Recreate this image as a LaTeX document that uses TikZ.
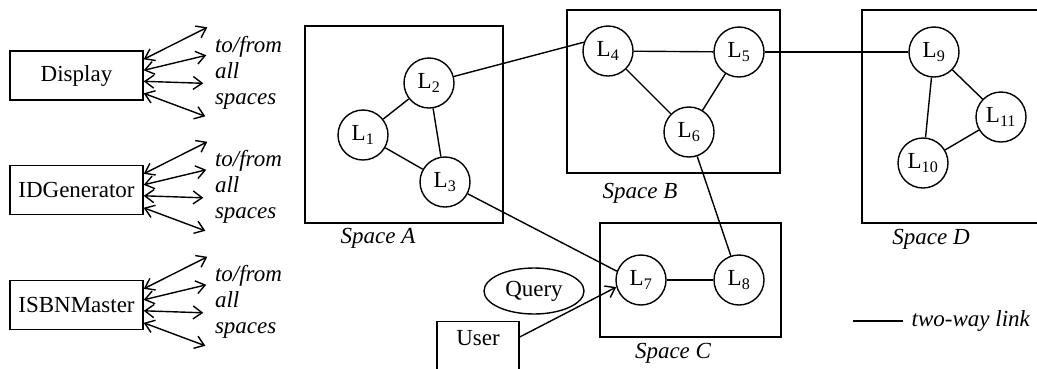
\documentclass[tikz,border=0pt]{standalone}
\usepackage{fontspec}
\setmainfont{Liberation Serif}
\usetikzlibrary{arrows.meta,shapes.geometric,calc}

\begin{document}
\begin{tikzpicture}[x=1pt,y=-1pt,line width=1.4pt,
  font=\fontsize{23}{26}\selectfont,
  barb/.tip={Straight Barb[length=9pt,width=13pt,line width=1.4pt]},
  both/.style={barb-barb},
  oneway/.style={-barb},
  box/.style={draw,inner sep=0pt,minimum width=133pt,minimum height=49pt},
  space/.style={draw,inner sep=0pt},
  loc/.style={draw,circle,inner sep=0pt,minimum size=50pt},
  lbl/.style={font=\fontsize{23}{26}\selectfont\itshape,inner sep=0pt}]

\useasboundingbox (0,0) rectangle (1037,368);
\clip (0,0) rectangle (1037,368);

% service components with their broadcast links
\node[box] (disp)  at (76.5,75.5) {Display};
\node[box] (idgen) at (76.5,190)  {IDGenerator};
\node[box] (isbn)  at (76.5,305)  {ISBNMaster};

\foreach \b in {disp,idgen,isbn}{
  \coordinate (\b-e1) at ($(\b.north west)+(198,-23)$);
  \coordinate (\b-e2) at ($(\b.north west)+(197,5)$);
  \coordinate (\b-e3) at ($(\b.north west)+(194,33)$);
  \coordinate (\b-e4) at ($(\b.north west)+(196,66)$);
  \draw[both] ($(\b.north east)+(0,9)$)  -- (\b-e1);
  \draw[both] ($(\b.north east)+(0,20)$) -- (\b-e2);
  \draw[both] ($(\b.north east)+(0,31)$) -- (\b-e3);
  \draw[both] ($(\b.north east)+(0,43)$) -- (\b-e4);
  \node[lbl,anchor=base west] (\b-t1) at ($(\b.north west)+(205,2)$)  {to/from};
  \node[lbl,anchor=base west] (\b-t2) at ($(\b.north west)+(205,28)$) {all};
  \node[lbl,anchor=base west] (\b-t3) at ($(\b.north west)+(205,54)$) {spaces};
}

% spaces
\node[space,minimum width=198pt,minimum height=197pt] (spA) at (404,124.5) {};
\node[space,minimum width=213pt,minimum height=163pt] (spB) at (673.5,91.5) {};
\node[space,minimum width=181pt,minimum height=114pt] (spC) at (690.5,280) {};
\node[space,minimum width=200pt,minimum height=213pt] (spD) at (962,116.5) {};

\node[lbl] (labA) at (378,238) {Space A};
\node[lbl] (labB) at (640,193) {Space B};
\node[lbl] (labC) at (673,353) {Space C};
\node[lbl] (labD) at (931,239) {Space D};

% locations
\node[loc] (L1)  at (363,135) {L\textsubscript{1}};
\node[loc] (L2)  at (429,83)  {L\textsubscript{2}};
\node[loc] (L3)  at (445,182) {L\textsubscript{3}};
\node[loc] (L4)  at (608,51)  {L\textsubscript{4}};
\node[loc] (L5)  at (739,52)  {L\textsubscript{5}};
\node[loc] (L6)  at (689,132) {L\textsubscript{6}};
\node[loc] (L7)  at (641,280) {L\textsubscript{7}};
\node[loc] (L8)  at (739,280) {L\textsubscript{8}};
\node[loc] (L9)  at (934,52)  {L\textsubscript{9}};
\node[loc] (L10) at (923,163) {L\textsubscript{10}};
\node[loc] (L11) at (1001,117) {L\textsubscript{11}};

% two-way links
\draw (L1) -- (L2);
\draw (L1) -- (L3);
\draw (L2) -- (L3);
\draw (L2) -- (L4.160);
\draw (L4) -- (L5);
\draw (L4) -- (L6);
\draw (L5) -- (L6);
\draw (L5) -- (L9);
\draw (L6) -- (L8);
\draw (L3) -- (L7.160);
\draw (L7) -- (L8);
\draw (L9) -- (L10);
\draw (L9) -- (L11);
\draw (L10) -- (L11);

% user and query
\node[draw,ellipse,inner sep=0pt,minimum width=100pt,minimum height=46pt] (query) at (534,291) {Query};
\node[draw,anchor=north,minimum width=82pt,inner xsep=0pt,inner ysep=8pt,
      text height=16pt,text depth=40pt] (user) at (478,321) {User};
\draw[oneway] ([yshift=-16pt]user.north east) -- (L7.196);

% legend
\node[lbl,anchor=west,inner xsep=8pt] (legend) at (903,321) {two-way link};
\coordinate (lg) at (853,321);
\draw (lg) -- (legend.west);

\end{tikzpicture}
\end{document}
